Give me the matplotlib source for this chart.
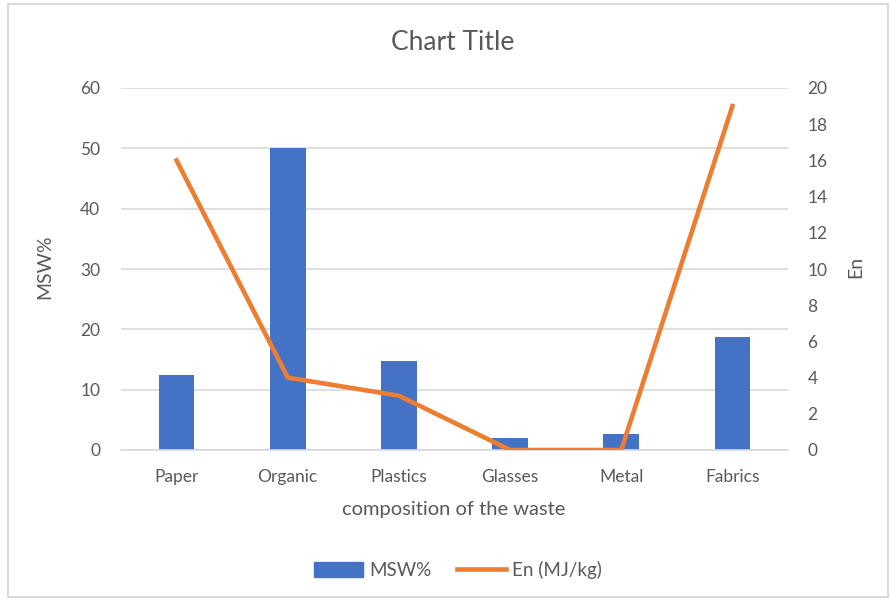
import matplotlib
matplotlib.use("Agg")
import matplotlib.pyplot as plt
from matplotlib.patches import Rectangle
from matplotlib.lines import Line2D

plt.rcParams['font.family'] = ['Lato', 'DejaVu Sans']

categories = ["Paper", "Organic", "Plastics", "Glasses", "Metal", "Fabrics"]
msw_pct = [12.5, 50, 14.7, 2.0, 2.6, 18.7]
energy = [16, 4, 3, 0, 0, 19]

grey = "#595959"
blue = "#4472C4"
orange = "#ED7D31"
grid = "#D9D9D9"

W, H = 890, 600
fig = plt.figure(figsize=(W / 100, H / 100), dpi=100)
fig.patches.append(Rectangle((8 / W, 3 / H), 880 / W, 593 / H, transform=fig.transFigure,
                             fill=False, edgecolor="#D9D9D9", linewidth=1.5))

ax = fig.add_axes([121 / W, 1 - 450 / H, 667 / W, 362 / H])
x = list(range(len(categories)))
ax.bar(x, msw_pct, width=0.32, color=blue, zorder=2)
ax.set_xlim(-0.5, len(categories) - 0.5)
ax.set_ylim(0, 60)
ax.set_yticks(range(0, 61, 10))
ax.yaxis.grid(True, color=grid, linewidth=1.2, zorder=0)
ax.set_axisbelow(True)
for s in ["top", "right", "left"]:
    ax.spines[s].set_visible(False)
ax.spines["bottom"].set_color(grid)
ax.spines["bottom"].set_linewidth(1.2)
ax.tick_params(axis="y", length=0, colors=grey, labelsize=12.5, pad=15)
ax.tick_params(axis="x", length=0, colors=grey, labelsize=12.5, pad=14)
ax.set_xticks(x)
ax.set_xticklabels(categories)

ax2 = ax.twinx()
ax2.plot(x, energy, color=orange, linewidth=3.3, zorder=3, solid_joinstyle="round")
ax2.set_ylim(0, 20)
ax2.set_yticks(range(0, 21, 2))
for s in ["top", "right", "left", "bottom"]:
    ax2.spines[s].set_visible(False)
ax2.tick_params(axis="y", length=0, colors=grey, labelsize=12.5, pad=14)

fig.text(45 / W, 1 - 267 / H, "MSW%", rotation=90, ha="center", va="center",
         color=grey, fontsize=14)
fig.text(856 / W, 1 - 267 / H, "En", rotation=90, ha="center", va="center",
         color=grey, fontsize=14)
fig.text(454 / W, 1 - 510 / H, "composition of the waste", ha="center", va="center",
         color=grey, fontsize=14.5)
fig.text(453 / W, 1 - 43 / H, "Chart Title", ha="center", va="center",
         color=grey, fontsize=19)

handles = [Rectangle((0, 0), 1, 1, color=blue),
           Line2D([0], [0], color=orange, linewidth=3.3)]
fig.legend(handles, ["MSW%", "En (MJ/kg)"], loc="center", bbox_to_anchor=(458 / W, 1 - 570 / H),
           ncol=2, frameon=False, fontsize=13.5, labelcolor=grey, handlelength=2.6,
           handleheight=0.8, columnspacing=1.4, handletextpad=0.3)

fig.savefig("out.png", dpi=100)
